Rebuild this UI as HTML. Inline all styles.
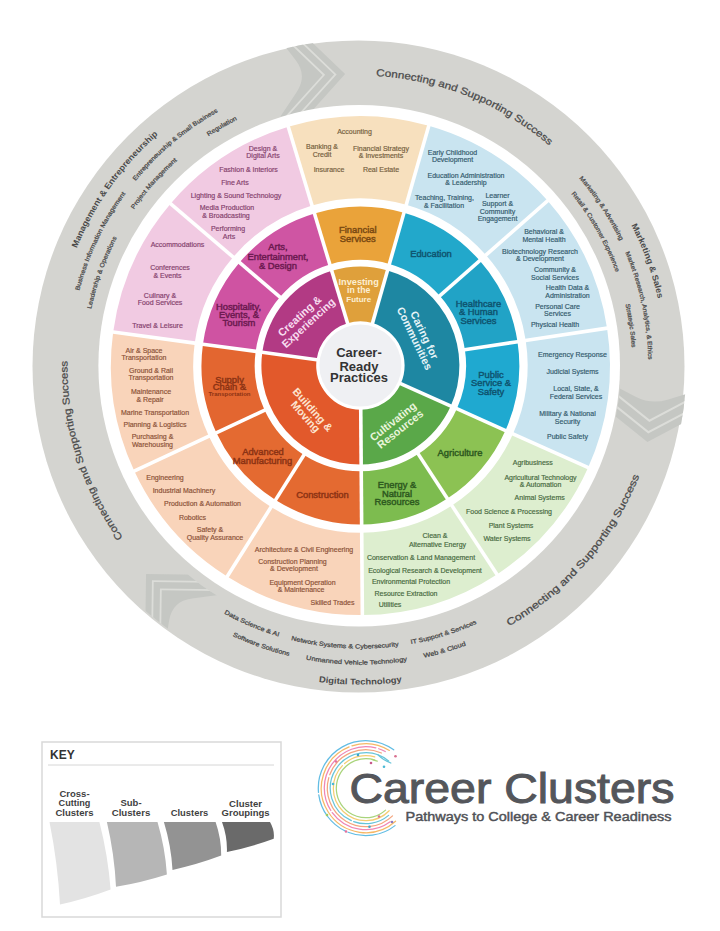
<!DOCTYPE html>
<html><head><meta charset="utf-8">
<style>
html,body{margin:0;padding:0;background:#fff;}
svg{display:block;font-family:"Liberation Sans",sans-serif;}
</style></head>
<body>
<svg width="720" height="931" viewBox="0 0 720 931">
<defs>
<path id="tp1" d="M53.69,352.21 A307,307 0 0 1 249.38,79.38"/>
<path id="tp2" d="M70.55,391.47 A291,291 0 0 1 198.52,123.78"/>
<path id="tp3" d="M85.92,268.94 A291,291 0 0 1 313.37,78.42"/>
<path id="tp4" d="M88.14,404.35 A275,275 0 0 1 175.32,162.20"/>
<path id="tp5" d="M94.28,296.28 A275,275 0 0 1 258.27,110.27"/>
<path id="tp6" d="M139.34,202.02 A275,275 0 0 1 328.79,92.42"/>
<path id="tp7" d="M276.10,88.12 A290,290 0 0 1 613.05,223.24"/>
<path id="tp8" d="M566.85,141.09 A305,305 0 0 1 662.93,404.35"/>
<path id="tp9" d="M501.78,114.69 A288,288 0 0 1 646.98,337.00"/>
<path id="tp10" d="M570.69,168.82 A288,288 0 0 1 633.03,458.41"/>
<path id="tp11" d="M499.68,131.96 A272,272 0 0 1 632.40,365.13"/>
<path id="tp12" d="M588.52,217.46 A272,272 0 0 1 621.60,441.49"/>
<path id="tp13" d="M410.95,661.31 A300,300 0 0 0 660.28,373.98"/>
<path id="tp14" d="M213.10,648.56 A319,319 0 0 0 507.70,648.56"/>
<path id="tp15" d="M147.47,552.01 A283,283 0 0 0 376.20,648.16"/>
<path id="tp16" d="M201.33,599.66 A283,283 0 0 0 492.39,615.94"/>
<path id="tp17" d="M312.72,644.55 A283,283 0 0 0 558.05,568.14"/>
<path id="tp18" d="M147.87,575.92 A299,299 0 0 0 392.69,662.85"/>
<path id="tp19" d="M208.65,623.23 A299,299 0 0 0 505.36,627.11"/>
<path id="tp20" d="M320.34,661.90 A299,299 0 0 0 555.38,592.28"/>
<path id="tp21" d="M196.13,608.22 A293,293 0 0 1 86.68,261.08"/>
</defs>
<rect width="720" height="931" fill="#fff"/>
<circle cx="358.5" cy="366.5" r="326" fill="#D4D4D0"/>
<clipPath id="ring"><path d="M360.40,39.60 A326,326 0 1 1 360.34,39.60 L360.35,105.10 A260.5,260.5 0 1 0 360.40,105.10 Z"/></clipPath>
<clipPath id="cc-30"><path d="M138.07,127.18 A326,326 0 0 1 556.59,105.24 L517.17,157.56 A260.5,260.5 0 0 0 182.74,175.08 Z"/></clipPath><g clip-path="url(#cc-30)"><g transform="translate(345.12,74.10) rotate(-2.10)"><path d="M-45.75,-40.00 L-7.00,0.00 L-45.75,40.00 L-62.75,40.00 L-24.00,0.00 L-62.75,-40.00 Z" fill="#DCDDD9"/><path d="M-38.75,-40.00 L0.00,0.00 L-38.75,40.00 L-47.25,40.00 L-8.50,0.00 L-47.25,-40.00 Z" fill="#C5C7C3"/><path d="M-49.75,-40.00 L-11.00,0.00 L-49.75,40.00 L-58.75,40.00 L-20.00,0.00 L-58.75,-40.00 Z" fill="#C5C7C3"/><path d="M-61.25,-40 L-22.5,0 L-61.25,40 L-66.25,40 L-49.00,16.00 Q-37.50,0 -49.00,-16.00 L-66.25,-40 Z" fill="#C5C7C3"/></g></g>
<clipPath id="cc1049"><path d="M655.62,227.31 A326,326 0 0 1 547.85,632.32 L510.19,578.73 A260.5,260.5 0 0 0 596.30,255.10 Z"/></clipPath><g clip-path="url(#cc1049)"><g transform="translate(647.41,441.97) rotate(95.40)"><path d="M-33.25,-40.00 L-7.00,0.00 L-33.25,40.00 L-50.25,40.00 L-24.00,0.00 L-50.25,-40.00 Z" fill="#DCDDD9"/><path d="M-26.25,-40.00 L0.00,0.00 L-26.25,40.00 L-34.75,40.00 L-8.50,0.00 L-34.75,-40.00 Z" fill="#C5C7C3"/><path d="M-37.25,-40.00 L-11.00,0.00 L-37.25,40.00 L-46.25,40.00 L-20.00,0.00 L-46.25,-40.00 Z" fill="#C5C7C3"/><path d="M-48.75,-40 L-22.5,0 L-48.75,40 L-53.75,40 L-44.00,16.00 Q-37.50,0 -44.00,-16.00 L-53.75,-40 Z" fill="#C5C7C3"/></g></g>
<clipPath id="cc2258"><path d="M327.46,689.93 A326,326 0 0 1 35.28,389.48 L90.13,385.45 A271,271 0 0 0 333.01,635.21 Z"/></clipPath><g clip-path="url(#cc2258)"><g transform="translate(146.04,574.05) rotate(225.80)"><path d="M-47.00,-40.00 L-7.00,0.00 L-47.00,40.00 L-64.00,40.00 L-24.00,0.00 L-64.00,-40.00 Z" fill="#DCDDD9"/><path d="M-40.00,-40.00 L0.00,0.00 L-40.00,40.00 L-48.50,40.00 L-8.50,0.00 L-48.50,-40.00 Z" fill="#C5C7C3"/><path d="M-51.00,-40.00 L-11.00,0.00 L-51.00,40.00 L-60.00,40.00 L-20.00,0.00 L-60.00,-40.00 Z" fill="#C5C7C3"/><path d="M-62.50,-40 L-22.5,0 L-62.50,40 L-67.50,40 L-49.50,16.00 Q-37.50,0 -49.50,-16.00 L-67.50,-40 Z" fill="#C5C7C3"/></g></g>
<circle cx="359.2" cy="365.7" r="260.8" fill="#FFFFFF"/>
<path d="M288.23,126.77 A249.5,249.5 0 0 1 428.81,125.66 L406.24,204.81 A167.2,167.2 0 0 0 312.04,205.55 Z" fill="#F7E0BE"/>
<path d="M314.44,213.49 A158.9,158.9 0 0 1 403.97,212.79 L389.38,263.95 A105.7,105.7 0 0 0 329.83,264.42 Z" fill="#EAA33A"/>
<path d="M428.81,125.66 A249.5,249.5 0 0 1 547.67,200.74 L485.90,255.12 A167.2,167.2 0 0 0 406.24,204.81 Z" fill="#C9E4F0"/>
<path d="M403.97,212.79 A158.9,158.9 0 0 1 479.67,260.60 L439.74,295.76 A105.7,105.7 0 0 0 389.38,263.95 Z" fill="#22A8CB"/>
<path d="M547.67,200.74 A249.5,249.5 0 0 1 607.07,328.15 L525.71,340.51 A167.2,167.2 0 0 0 485.90,255.12 Z" fill="#C9E4F0"/>
<path d="M479.67,260.60 A158.9,158.9 0 0 1 517.50,341.75 L464.90,349.74 A105.7,105.7 0 0 0 439.74,295.76 Z" fill="#21A3C6"/>
<path d="M607.07,328.15 A249.5,249.5 0 0 1 588.16,467.46 L513.03,433.86 A167.2,167.2 0 0 0 525.71,340.51 Z" fill="#C9E4F0"/>
<path d="M517.50,341.75 A158.9,158.9 0 0 1 505.45,430.47 L456.89,408.75 A105.7,105.7 0 0 0 464.90,349.74 Z" fill="#1FA9D0"/>
<path d="M588.16,467.46 A249.5,249.5 0 0 1 496.93,574.43 L451.90,505.54 A167.2,167.2 0 0 0 513.03,433.86 Z" fill="#DDEECF"/>
<path d="M505.45,430.47 A158.9,158.9 0 0 1 447.36,498.60 L418.24,454.07 A105.7,105.7 0 0 0 456.89,408.75 Z" fill="#8CC253"/>
<path d="M496.93,574.43 A249.5,249.5 0 0 1 362.36,615.09 L361.71,532.79 A167.2,167.2 0 0 0 451.90,505.54 Z" fill="#DDEECF"/>
<path d="M447.36,498.60 A158.9,158.9 0 0 1 361.65,524.50 L361.23,471.30 A105.7,105.7 0 0 0 418.24,454.07 Z" fill="#7DBC4F"/>
<path d="M362.36,615.09 A249.5,249.5 0 0 1 227.16,576.55 L271.11,506.96 A167.2,167.2 0 0 0 361.71,532.79 Z" fill="#F9D4BA"/>
<path d="M361.65,524.50 A158.9,158.9 0 0 1 275.54,499.95 L303.95,454.97 A105.7,105.7 0 0 0 361.23,471.30 Z" fill="#E46A31"/>
<path d="M227.16,576.55 A249.5,249.5 0 0 1 134.27,471.03 L208.86,436.25 A167.2,167.2 0 0 0 271.11,506.96 Z" fill="#F9D4BA"/>
<path d="M275.54,499.95 A158.9,158.9 0 0 1 216.38,432.74 L264.60,410.26 A105.7,105.7 0 0 0 303.95,454.97 Z" fill="#E46A31"/>
<path d="M134.27,471.03 A249.5,249.5 0 0 1 113.17,332.03 L194.72,343.11 A167.2,167.2 0 0 0 208.86,436.25 Z" fill="#F9D4BA"/>
<path d="M216.38,432.74 A158.9,158.9 0 0 1 202.94,344.22 L255.66,351.38 A105.7,105.7 0 0 0 264.60,410.26 Z" fill="#E36630"/>
<path d="M113.17,332.03 A249.5,249.5 0 0 1 170.56,203.70 L233.18,257.10 A167.2,167.2 0 0 0 194.72,343.11 Z" fill="#F1CAE2"/>
<path d="M202.94,344.22 A158.9,158.9 0 0 1 239.50,262.49 L279.98,297.01 A105.7,105.7 0 0 0 255.66,351.38 Z" fill="#CF53A2"/>
<path d="M170.56,203.70 A249.5,249.5 0 0 1 288.23,126.77 L312.04,205.55 A167.2,167.2 0 0 0 233.18,257.10 Z" fill="#F1CAE2"/>
<path d="M239.50,262.49 A158.9,158.9 0 0 1 314.44,213.49 L329.83,264.42 A105.7,105.7 0 0 0 279.98,297.01 Z" fill="#CF55A3"/>
<path d="M331.76,270.83 A99,99 0 0 1 387.54,270.39 L372.52,323.09 A44.2,44.2 0 0 0 347.61,323.29 Z" fill="#DFA03B"/>
<path d="M387.54,270.39 A99,99 0 0 1 450.77,406.02 L400.75,383.65 A44.2,44.2 0 0 0 372.52,323.09 Z" fill="#1E87A2"/>
<path d="M450.77,406.02 A99,99 0 0 1 361.18,464.60 L360.75,409.80 A44.2,44.2 0 0 0 400.75,383.65 Z" fill="#5AA849"/>
<path d="M361.18,464.60 A99,99 0 0 1 262.30,352.28 L316.60,359.65 A44.2,44.2 0 0 0 360.75,409.80 Z" fill="#E2592B"/>
<path d="M262.30,352.28 A99,99 0 0 1 331.76,270.83 L347.61,323.29 A44.2,44.2 0 0 0 316.60,359.65 Z" fill="#B23A84"/>
<line x1="405.70" y1="206.73" x2="429.36" y2="123.74" stroke="#fff" stroke-width="3.6"/>
<line x1="388.83" y1="265.87" x2="404.52" y2="210.87" stroke="#fff" stroke-width="3.6"/>
<line x1="484.40" y1="256.44" x2="549.17" y2="199.41" stroke="#fff" stroke-width="3.6"/>
<line x1="438.24" y1="297.08" x2="481.17" y2="259.28" stroke="#fff" stroke-width="3.6"/>
<line x1="523.73" y1="340.81" x2="609.05" y2="327.85" stroke="#fff" stroke-width="3.6"/>
<line x1="462.93" y1="350.04" x2="519.48" y2="341.45" stroke="#fff" stroke-width="3.6"/>
<line x1="511.21" y1="433.04" x2="589.99" y2="468.28" stroke="#fff" stroke-width="3.6"/>
<line x1="455.06" y1="407.94" x2="507.28" y2="431.29" stroke="#fff" stroke-width="3.6"/>
<line x1="450.80" y1="503.87" x2="498.03" y2="576.10" stroke="#fff" stroke-width="3.6"/>
<line x1="417.15" y1="452.39" x2="448.45" y2="500.27" stroke="#fff" stroke-width="3.6"/>
<line x1="361.70" y1="530.79" x2="362.38" y2="617.09" stroke="#fff" stroke-width="3.6"/>
<line x1="361.21" y1="469.30" x2="361.66" y2="526.50" stroke="#fff" stroke-width="3.6"/>
<line x1="272.18" y1="505.27" x2="226.09" y2="578.24" stroke="#fff" stroke-width="3.6"/>
<line x1="305.02" y1="453.28" x2="274.48" y2="501.64" stroke="#fff" stroke-width="3.6"/>
<line x1="210.67" y1="435.40" x2="132.46" y2="471.87" stroke="#fff" stroke-width="3.6"/>
<line x1="266.41" y1="409.42" x2="214.57" y2="433.59" stroke="#fff" stroke-width="3.6"/>
<line x1="196.70" y1="343.37" x2="111.19" y2="331.76" stroke="#fff" stroke-width="3.6"/>
<line x1="257.64" y1="351.65" x2="200.96" y2="343.95" stroke="#fff" stroke-width="3.6"/>
<line x1="234.70" y1="258.40" x2="169.04" y2="202.40" stroke="#fff" stroke-width="3.6"/>
<line x1="281.50" y1="298.31" x2="237.98" y2="261.19" stroke="#fff" stroke-width="3.6"/>
<line x1="312.61" y1="207.46" x2="287.65" y2="124.85" stroke="#fff" stroke-width="3.6"/>
<line x1="330.40" y1="266.33" x2="313.86" y2="211.58" stroke="#fff" stroke-width="3.6"/>
<line x1="371.97" y1="325.02" x2="388.09" y2="268.47" stroke="#fff" stroke-width="3.6"/>
<line x1="398.92" y1="382.83" x2="452.60" y2="406.83" stroke="#fff" stroke-width="3.6"/>
<line x1="360.73" y1="407.80" x2="361.19" y2="466.60" stroke="#fff" stroke-width="3.6"/>
<line x1="318.58" y1="359.92" x2="260.32" y2="352.01" stroke="#fff" stroke-width="3.6"/>
<line x1="348.19" y1="325.20" x2="331.18" y2="268.92" stroke="#fff" stroke-width="3.6"/>
<circle cx="360.4" cy="365.6" r="41" fill="#EFF0F3"/>
<g fill="#76603F" stroke="#76603F" stroke-width="0.18" font-size="7" text-anchor="middle">
<text x="354.5" y="134.0">Accounting</text>
<text x="322" y="149.2">Banking &amp;</text>
<text x="322" y="156.9">Credit</text>
<text x="381" y="150.5">Financial Strategy</text>
<text x="381" y="157.5">&amp; Investments</text>
<text x="329" y="172.0">Insurance</text>
<text x="381" y="172.0">Real Estate</text>
</g>
<g fill="#86426E" stroke="#86426E" stroke-width="0.18" font-size="7" text-anchor="middle">
<text x="263" y="150.5">Design &amp;</text>
<text x="263" y="158.2">Digital Arts</text>
<text x="248.5" y="171.8">Fashion &amp; Interiors</text>
<text x="235" y="184.9">Fine Arts</text>
<text x="236" y="198.1">Lighting &amp; Sound Technology</text>
<text x="227" y="209.8">Media Production</text>
<text x="226" y="217.5">&amp; Broadcasting</text>
<text x="228" y="230.5">Performing</text>
<text x="229" y="239.0">Arts</text>
</g>
<g fill="#86426E" stroke="#86426E" stroke-width="0.18" font-size="7" text-anchor="middle">
<text x="177.5" y="247.0">Accommodations</text>
<text x="170" y="270.0">Conferences</text>
<text x="167.5" y="278.0">&amp; Events</text>
<text x="160" y="297.5">Culinary &amp;</text>
<text x="160" y="305.0">Food Services</text>
<text x="157.5" y="327.5">Travel &amp; Leisure</text>
</g>
<g fill="#8C5238" stroke="#8C5238" stroke-width="0.18" font-size="7" text-anchor="middle">
<text x="144" y="352.5">Air &amp; Space</text>
<text x="144" y="360.0">Transportation</text>
<text x="151" y="372.5">Ground &amp; Rail</text>
<text x="151" y="380.0">Transportation</text>
<text x="151" y="393.5">Maintenance</text>
<text x="150" y="401.5">&amp; Repair</text>
<text x="155" y="414.5">Marine Transportation</text>
<text x="155" y="426.5">Planning &amp; Logistics</text>
<text x="152.5" y="438.5">Purchasing &amp;</text>
<text x="152.5" y="446.5">Warehousing</text>
</g>
<g fill="#8C5238" stroke="#8C5238" stroke-width="0.18" font-size="7" text-anchor="middle">
<text x="165" y="479.5">Engineering</text>
<text x="184" y="493.0">Industrial Machinery</text>
<text x="202.5" y="505.5">Production &amp; Automation</text>
<text x="192.5" y="519.5">Robotics</text>
<text x="210" y="531.5">Safety &amp;</text>
<text x="215" y="539.5">Quality Assurance</text>
</g>
<g fill="#8C5238" stroke="#8C5238" stroke-width="0.18" font-size="7" text-anchor="middle">
<text x="304" y="551.5">Architecture &amp; Civil Engineering</text>
<text x="292.5" y="563.5">Construction Planning</text>
<text x="294" y="570.5">&amp; Development</text>
<text x="302.5" y="584.5">Equipment Operation</text>
<text x="301" y="591.5">&amp; Maintenance</text>
<text x="332.5" y="605.0">Skilled Trades</text>
</g>
<g fill="#486A3F" stroke="#486A3F" stroke-width="0.18" font-size="7" text-anchor="middle">
<text x="435" y="538.0">Clean &amp;</text>
<text x="437.5" y="546.5">Alternative Energy</text>
<text x="421" y="560.0">Conservation &amp; Land Management</text>
<text x="425" y="572.5">Ecological Research &amp; Development</text>
<text x="411" y="583.5">Environmental Protection</text>
<text x="406" y="595.5">Resource Extraction</text>
<text x="390" y="606.5">Utilities</text>
</g>
<g fill="#486A3F" stroke="#486A3F" stroke-width="0.18" font-size="7" text-anchor="middle">
<text x="532.8" y="464.5">Agribusiness</text>
<text x="540.5" y="479.5">Agricultural Technology</text>
<text x="540.5" y="486.7">&amp; Automation</text>
<text x="539.7" y="500.3">Animal Systems</text>
<text x="509" y="513.5">Food Science &amp; Processing</text>
<text x="511" y="527.5">Plant Systems</text>
<text x="507" y="540.8">Water Systems</text>
</g>
<g fill="#345B6E" stroke="#345B6E" stroke-width="0.18" font-size="7" text-anchor="middle">
<text x="572.5" y="357.0">Emergency Response</text>
<text x="572.5" y="373.5">Judicial Systems</text>
<text x="576" y="390.5">Local, State, &amp;</text>
<text x="576" y="398.5">Federal Services</text>
<text x="567.5" y="415.5">Military &amp; National</text>
<text x="567.5" y="423.5">Security</text>
<text x="567.5" y="438.5">Public Safety</text>
</g>
<g fill="#345B6E" stroke="#345B6E" stroke-width="0.18" font-size="7" text-anchor="middle">
<text x="544" y="233.5">Behavioral &amp;</text>
<text x="544" y="241.5">Mental Health</text>
<text x="540" y="253.5">Biotechnology Research</text>
<text x="540" y="260.5">&amp; Development</text>
<text x="555" y="271.5">Community &amp;</text>
<text x="555" y="279.5">Social Services</text>
<text x="567.5" y="290.0">Health Data &amp;</text>
<text x="567.5" y="297.5">Administration</text>
<text x="557.5" y="308.5">Personal Care</text>
<text x="557.5" y="315.5">Services</text>
<text x="555" y="326.5">Physical Health</text>
</g>
<g fill="#345B6E" stroke="#345B6E" stroke-width="0.18" font-size="7" text-anchor="middle">
<text x="452.5" y="155.0">Early Childhood</text>
<text x="452.5" y="162.0">Development</text>
<text x="466" y="177.5">Education Administration</text>
<text x="466" y="185.0">&amp; Leadership</text>
<text x="444.5" y="200.0">Teaching, Training,</text>
<text x="444" y="207.5">&amp; Facilitation</text>
<text x="497.5" y="198.0">Learner</text>
<text x="497.5" y="205.5">Support &amp;</text>
<text x="497.5" y="213.5">Community</text>
<text x="497.5" y="220.5">Engagement</text>
</g>
<g fill="#7A4A12" stroke="#7A4A12" stroke-width="0.45" font-size="9.4" text-anchor="middle">
<text x="357.8" y="233.2">Financial</text>
<text x="357.8" y="241.89999999999998">Services</text>
</g>
<g fill="#6C1A50" stroke="#6C1A50" stroke-width="0.45" font-size="9.4" text-anchor="middle">
<text x="278" y="249.89999999999998">Arts,</text>
<text x="278" y="259.59999999999997">Entertainment,</text>
<text x="278" y="268.5">&amp; Design</text>
</g>
<g fill="#6C1A50" stroke="#6C1A50" stroke-width="0.45" font-size="9.4" text-anchor="middle">
<text x="238.5" y="309.7">Hospitality,</text>
<text x="239" y="317.8">Events, &amp;</text>
<text x="239" y="326.0">Tourism</text>
</g>
<g fill="#8C3314" stroke="#8C3314" stroke-width="0.45" font-size="9.4" text-anchor="middle">
<text x="229.5" y="382.7">Supply</text>
<text x="229.5" y="390.2">Chain &amp;</text>
</g>
<g fill="#8C3314" stroke="#8C3314" stroke-width="0.45" font-size="9.4" text-anchor="middle">
<text x="263" y="454.7">Advanced</text>
<text x="262.5" y="463.7">Manufacturing</text>
</g>
<g fill="#8C3314" stroke="#8C3314" stroke-width="0.45" font-size="9.4" text-anchor="middle">
<text x="322.5" y="498.2">Construction</text>
</g>
<g fill="#2E5A1F" stroke="#2E5A1F" stroke-width="0.45" font-size="9.4" text-anchor="middle">
<text x="397" y="487.9">Energy &amp;</text>
<text x="397" y="496.7">Natural</text>
<text x="397" y="505.2">Resources</text>
</g>
<g fill="#2E5A1F" stroke="#2E5A1F" stroke-width="0.45" font-size="9.4" text-anchor="middle">
<text x="460" y="456.2">Agriculture</text>
</g>
<g fill="#0F5570" stroke="#0F5570" stroke-width="0.45" font-size="9.4" text-anchor="middle">
<text x="491" y="377.7">Public</text>
<text x="491" y="385.7">Service &amp;</text>
<text x="491" y="394.7">Safety</text>
</g>
<g fill="#0F5570" stroke="#0F5570" stroke-width="0.45" font-size="9.4" text-anchor="middle">
<text x="478.5" y="307.2">Healthcare</text>
<text x="478.5" y="315.4">&amp; Human</text>
<text x="478.5" y="324.2">Services</text>
</g>
<g fill="#0F5570" stroke="#0F5570" stroke-width="0.45" font-size="9.4" text-anchor="middle">
<text x="431" y="257.2">Education</text>
</g>
<text x="229.5" y="396" fill="#8C3314" font-size="6" font-weight="bold" text-anchor="middle">Transportation</text>
<g fill="#FCEFD2" font-weight="bold" text-anchor="middle"><text x="358.7" y="285" font-size="9.2">Investing</text><text x="358.7" y="293" font-size="8.7">in the</text><text x="358.7" y="302" font-size="8">Future</text></g>
<text transform="translate(424.5,335) rotate(64.5)" y="3.8" fill="#E6F4F8" font-size="10.8" font-weight="bold" text-anchor="middle">Caring for</text><text transform="translate(414.7,338.4) rotate(64.5)" y="3.8" fill="#E6F4F8" font-size="10.8" font-weight="bold" text-anchor="middle">Communities</text>
<text transform="translate(400.1,429.1) rotate(-38.3)" y="3.8" fill="#EAF5DC" font-size="10.8" font-weight="bold" text-anchor="middle">Resources</text><text transform="translate(392.9,421.5) rotate(-38.3)" y="3.8" fill="#EAF5DC" font-size="10.8" font-weight="bold" text-anchor="middle">Cultivating</text>
<text transform="translate(312.8,409.7) rotate(48.5)" y="3.8" fill="#FCE4D0" font-size="10.8" font-weight="bold" text-anchor="middle">Building &amp;</text><text transform="translate(305.6,416.6) rotate(48.5)" y="3.8" fill="#FCE4D0" font-size="10.8" font-weight="bold" text-anchor="middle">Moving</text>
<text transform="translate(299.6,316) rotate(-42.5)" y="3.8" fill="#F8DDF0" font-size="10.8" font-weight="bold" text-anchor="middle">Creating &amp;</text><text transform="translate(308.3,322.9) rotate(-42.5)" y="3.8" fill="#F8DDF0" font-size="10.8" font-weight="bold" text-anchor="middle">Experiencing</text>
<g fill="#333" font-size="13" font-weight="bold" text-anchor="middle"><text x="359" y="357">Career-</text><text x="359" y="370.5">Ready</text><text x="359" y="381.5">Practices</text></g>
<text font-size="8.5" fill="#4A4A4A" stroke="#4A4A4A" stroke-width="0" font-weight="bold"><textPath href="#tp1" startOffset="50%" text-anchor="middle" textLength="140.9" lengthAdjust="spacingAndGlyphs">Management &amp; Entrepreneurship</textPath></text>
<text font-size="6.2" fill="#4A4A4A" stroke="#4A4A4A" stroke-width="0.25"><textPath href="#tp2" startOffset="50%" text-anchor="middle" textLength="108.2" lengthAdjust="spacingAndGlyphs">Business Information Management</textPath></text>
<text font-size="6.2" fill="#4A4A4A" stroke="#4A4A4A" stroke-width="0.25"><textPath href="#tp3" startOffset="50%" text-anchor="middle" textLength="108.2" lengthAdjust="spacingAndGlyphs">Entrepreneurship &amp; Small Business</textPath></text>
<text font-size="6.2" fill="#4A4A4A" stroke="#4A4A4A" stroke-width="0.25"><textPath href="#tp4" startOffset="50%" text-anchor="middle" textLength="75.8" lengthAdjust="spacingAndGlyphs">Leadership &amp; Operations</textPath></text>
<text font-size="6.2" fill="#4A4A4A" stroke="#4A4A4A" stroke-width="0.25"><textPath href="#tp5" startOffset="50%" text-anchor="middle" textLength="65.3" lengthAdjust="spacingAndGlyphs">Project Management</textPath></text>
<text font-size="6.2" fill="#4A4A4A" stroke="#4A4A4A" stroke-width="0.25"><textPath href="#tp6" startOffset="50%" text-anchor="middle" textLength="33.1" lengthAdjust="spacingAndGlyphs">Regulation</textPath></text>
<text font-size="10" fill="#4A4A4A" stroke="#4A4A4A" stroke-width="0.25"><textPath href="#tp7" startOffset="50%" text-anchor="middle" textLength="189.8" lengthAdjust="spacingAndGlyphs">Connecting and Supporting Success</textPath></text>
<text font-size="8.5" fill="#4A4A4A" stroke="#4A4A4A" stroke-width="0" font-weight="bold"><textPath href="#tp8" startOffset="50%" text-anchor="middle" textLength="78.3" lengthAdjust="spacingAndGlyphs">Marketing &amp; Sales</textPath></text>
<text font-size="6.2" fill="#4A4A4A" stroke="#4A4A4A" stroke-width="0.25"><textPath href="#tp9" startOffset="50%" text-anchor="middle" textLength="74.9" lengthAdjust="spacingAndGlyphs">Marketing &amp; Advertising</textPath></text>
<text font-size="6.2" fill="#4A4A4A" stroke="#4A4A4A" stroke-width="0.25"><textPath href="#tp10" startOffset="50%" text-anchor="middle" textLength="110.1" lengthAdjust="spacingAndGlyphs">Market Research, Analytics, &amp; Ethics</textPath></text>
<text font-size="6.2" fill="#4A4A4A" stroke="#4A4A4A" stroke-width="0.25"><textPath href="#tp11" startOffset="50%" text-anchor="middle" textLength="90.7" lengthAdjust="spacingAndGlyphs">Retail &amp; Customer Experience</textPath></text>
<text font-size="6.2" fill="#4A4A4A" stroke="#4A4A4A" stroke-width="0.25"><textPath href="#tp12" startOffset="50%" text-anchor="middle" textLength="43.7" lengthAdjust="spacingAndGlyphs">Strategic Sales</textPath></text>
<text font-size="10" fill="#4A4A4A" stroke="#4A4A4A" stroke-width="0.25"><textPath href="#tp13" startOffset="50%" text-anchor="middle" textLength="202.6" lengthAdjust="spacingAndGlyphs">Connecting and Supporting Success</textPath></text>
<text font-size="8.5" fill="#4A4A4A" stroke="#4A4A4A" stroke-width="0" font-weight="bold"><textPath href="#tp14" startOffset="50%" text-anchor="middle" textLength="83.5" lengthAdjust="spacingAndGlyphs">Digital Technology</textPath></text>
<text font-size="6.2" fill="#4A4A4A" stroke="#4A4A4A" stroke-width="0.25"><textPath href="#tp15" startOffset="50%" text-anchor="middle" textLength="59.3" lengthAdjust="spacingAndGlyphs">Data Science &amp; AI</textPath></text>
<text font-size="6.2" fill="#4A4A4A" stroke="#4A4A4A" stroke-width="0.25"><textPath href="#tp16" startOffset="50%" text-anchor="middle" textLength="108.7" lengthAdjust="spacingAndGlyphs">Network Systems &amp; Cybersecurity</textPath></text>
<text font-size="6.2" fill="#4A4A4A" stroke="#4A4A4A" stroke-width="0.25"><textPath href="#tp17" startOffset="50%" text-anchor="middle" textLength="69.1" lengthAdjust="spacingAndGlyphs">IT Support &amp; Services</textPath></text>
<text font-size="6.2" fill="#4A4A4A" stroke="#4A4A4A" stroke-width="0.25"><textPath href="#tp18" startOffset="50%" text-anchor="middle" textLength="60.0" lengthAdjust="spacingAndGlyphs">Software Solutions</textPath></text>
<text font-size="6.2" fill="#4A4A4A" stroke="#4A4A4A" stroke-width="0.25"><textPath href="#tp19" startOffset="50%" text-anchor="middle" textLength="101.8" lengthAdjust="spacingAndGlyphs">Unmanned Vehicle Technology</textPath></text>
<text font-size="6.2" fill="#4A4A4A" stroke="#4A4A4A" stroke-width="0.25"><textPath href="#tp20" startOffset="50%" text-anchor="middle" textLength="43.8" lengthAdjust="spacingAndGlyphs">Web &amp; Cloud</textPath></text>
<text font-size="10" fill="#4A4A4A" stroke="#4A4A4A" stroke-width="0.25"><textPath href="#tp21" startOffset="50%" text-anchor="middle" textLength="188.2" lengthAdjust="spacingAndGlyphs">Connecting and Supporting Success</textPath></text>
<rect x="42" y="742" width="239" height="175" fill="#fff" stroke="#D9D9D9" stroke-width="1.5"/>
<text x="50" y="759" font-size="12" font-weight="bold" fill="#333">KEY</text>
<line x1="48" y1="765" x2="274" y2="765" stroke="#D6D6D6" stroke-width="1"/>
<g font-size="9.5" font-weight="bold" fill="#3F3F3F" text-anchor="middle"><text x="74.5" y="797">Cross-</text><text x="74.5" y="806.3" textLength="31.9" lengthAdjust="spacingAndGlyphs">Cutting</text><text x="74.5" y="815.7" textLength="38.2" lengthAdjust="spacingAndGlyphs">Clusters</text><text x="131" y="806.3">Sub-</text><text x="131" y="815.7" textLength="38.6" lengthAdjust="spacingAndGlyphs">Clusters</text><text x="189.5" y="815.7" textLength="37.5" lengthAdjust="spacingAndGlyphs">Clusters</text><text x="245.6" y="806.8" textLength="33" lengthAdjust="spacingAndGlyphs">Cluster</text><text x="245.6" y="815.7" textLength="48" lengthAdjust="spacingAndGlyphs">Groupings</text></g>
<path d="M49.5,822 L99.4,822 Q108.0,855.7 110.6,889.4 Q85.3,898.9 60,904.4 Q57.75,863.2 49.5,822 Z" fill="#E3E3E3"/>
<path d="M106.9,822 L157.5,822 Q165.2,848.2 166.9,874.4 Q141.45,882.55 116,886.7 Q114.45,854.35 106.9,822 Z" fill="#B6B6B6"/>
<path d="M163.9,822 L215.6,822 Q221.39999999999998,838.8 221.2,855.6 Q196.85,864.75 172.5,869.9 Q171.2,845.95 163.9,822 Z" fill="#939393"/>
<path d="M222,822 L270,822 Q274.85,830.35 273.7,838.7 Q250.3,847.3 226.9,851.9 Q227.45,836.95 222,822 Z" fill="#6A6A6A"/>
<path d="M395.04,825.63 A47.5,47.5 0 0 1 348.01,832.24" fill="none" stroke="#62BDE4" stroke-width="1.25" stroke-linecap="round"/>
<path d="M345.26,831.03 A47.5,47.5 0 0 1 318.76,794.81" fill="none" stroke="#62BDE4" stroke-width="1.25" stroke-linecap="round"/>
<path d="M318.48,792.33 A47.5,47.5 0 0 1 393.72,749.77" fill="none" stroke="#62BDE4" stroke-width="1.25" stroke-linecap="round"/>
<path d="M395.58,821.27 A44.5,44.5 0 1 1 349.13,746.94" fill="none" stroke="#F6B866" stroke-width="1.25" stroke-linecap="round"/>
<path d="M351.95,745.91 A44.5,44.5 0 0 1 389.38,750.46" fill="none" stroke="#F6B866" stroke-width="1.25" stroke-linecap="round"/>
<path d="M390.19,821.77 A41.5,41.5 0 0 1 332.23,812.59" fill="none" stroke="#EF86B5" stroke-width="1.25" stroke-linecap="round"/>
<path d="M330.82,810.53 A41.5,41.5 0 0 1 375.84,747.93" fill="none" stroke="#EF86B5" stroke-width="1.25" stroke-linecap="round"/>
<path d="M378.72,748.76 A41.5,41.5 0 0 1 385.28,751.56" fill="none" stroke="#EF86B5" stroke-width="1.25" stroke-linecap="round"/>
<path d="M392.54,815.89 A38.5,38.5 0 0 1 328.79,777.59" fill="none" stroke="#F4A57E" stroke-width="1.25" stroke-linecap="round"/>
<path d="M329.73,774.74 A38.5,38.5 0 0 1 381.46,753.03" fill="none" stroke="#F4A57E" stroke-width="1.25" stroke-linecap="round"/>
<path d="M388.62,815.39 A35.5,35.5 0 0 1 353.66,821.56" fill="none" stroke="#66C4D9" stroke-width="1.25" stroke-linecap="round"/>
<path d="M351.34,820.62 A35.5,35.5 0 1 1 388.62,761.01" fill="none" stroke="#66C4D9" stroke-width="1.25" stroke-linecap="round"/>
<path d="M390.83,763.03 A35.5,35.5 0 0 1 377.94,754.84" fill="none" stroke="#66C4D9" stroke-width="1.25" stroke-linecap="round"/>
<path d="M389.18,810.78 A32.5,32.5 0 0 1 342.42,765.62" fill="none" stroke="#F4CD72" stroke-width="1.25" stroke-linecap="round"/>
<path d="M344.60,763.56 A32.5,32.5 0 0 1 374.76,756.96" fill="none" stroke="#F4CD72" stroke-width="1.25" stroke-linecap="round"/>
<path d="M385.54,810.12 A29.5,29.5 0 1 1 374.92,760.14" fill="none" stroke="#A9D47B" stroke-width="1.25" stroke-linecap="round"/>
<path d="M377.26,761.02 A29.5,29.5 0 0 1 371.93,759.34" fill="none" stroke="#A9D47B" stroke-width="1.25" stroke-linecap="round"/>
<circle cx="395.5" cy="756.2" r="1.3" fill="#D9708F"/>
<circle cx="384" cy="766.8" r="1.3" fill="#49B9D6"/>
<circle cx="371" cy="763" r="1.3" fill="#C75A8A"/>
<circle cx="358" cy="755" r="1.3" fill="#3FA5C8"/>
<circle cx="336" cy="761.5" r="1.3" fill="#E2719F"/>
<circle cx="333" cy="784" r="1.3" fill="#49B9D6"/>
<circle cx="379" cy="816.5" r="1.3" fill="#D9708F"/>
<circle cx="392" cy="822" r="1.3" fill="#8C7BC0"/>
<circle cx="369.5" cy="826.7" r="1.3" fill="#3FA5C8"/>
<circle cx="346" cy="831.5" r="1.3" fill="#E2719F"/>
<circle cx="327" cy="815" r="1.3" fill="#9ACB62"/>
<text x="349.5" y="802.5" font-size="42.5" fill="#54565B" stroke="#54565B" stroke-width="1.0" textLength="325" lengthAdjust="spacingAndGlyphs">Career Clusters</text>
<text x="405.5" y="821" font-size="12.6" fill="#505257" stroke="#505257" stroke-width="0.45" textLength="266" lengthAdjust="spacingAndGlyphs">Pathways to College &amp; Career Readiness</text>
</svg>
</body></html>
